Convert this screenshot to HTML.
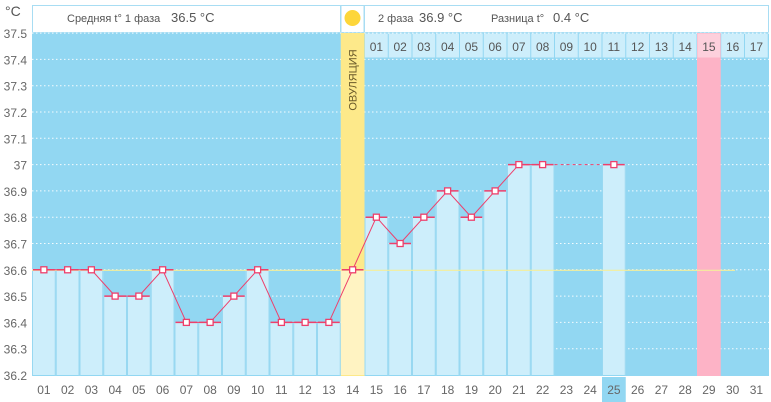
<!DOCTYPE html>
<html><head><meta charset="utf-8"><style>
html,body{margin:0;padding:0;background:#fff;}
svg{display:block;font-family:"Liberation Sans","DejaVu Sans",sans-serif;}
</style></head><body>
<svg id="s" width="771" height="402" viewBox="0 0 771 402" xmlns="http://www.w3.org/2000/svg">
<rect width="771" height="402" fill="#fff"/>
<rect x="32.5" y="5.5" width="308" height="27" fill="#fff" stroke="#a8ddf3"/>
<rect x="341" y="5.5" width="23" height="27" fill="#fff" stroke="#a8ddf3"/>
<rect x="364.5" y="5.5" width="404" height="27" fill="#fff" stroke="#a8ddf3"/>
<circle cx="352.5" cy="18" r="8" fill="#fdd63a"/>
<text x="67" y="22" font-size="11" fill="#555">Средняя t° 1 фаза</text>
<text x="171" y="22" font-size="13" fill="#555">36.5 °C</text>
<text x="378" y="22" font-size="11" fill="#555">2 фаза</text>
<text x="419" y="22" font-size="13" fill="#555">36.9 °C</text>
<text x="491" y="22" font-size="11" fill="#555">Разница t°</text>
<text x="553" y="22" font-size="13" fill="#555">0.4 °C</text>
<text x="5" y="16" font-size="14" fill="#555">°C</text>
<rect x="32" y="33" width="737" height="343" fill="#92d7f2"/>
<g id="g"></g>
</svg>
<script>
var s=document.getElementById('g'),NS='http://www.w3.org/2000/svg';
function el(t,a,txt){var e=document.createElementNS(NS,t);for(var k in a)e.setAttribute(k,a[k]);if(txt!=null)e.textContent=txt;s.appendChild(e);return e;}
var P=23.75,X0=32;function cx(i){return X0+(i-1)*P;}
function Y(v){return 375-(v-36.2)*263;}
for(var k=1;k<=13;k++){var v=36.2+k*0.1;el('line',{x1:32,x2:769,y1:Y(v),y2:Y(v),stroke:'#fff','stroke-dasharray':'1.5 2.5','stroke-opacity':0.9});}
for(var k=0;k<=13;k++){var v=(36.2+k*0.1);var t=v.toFixed(1);if(t=='37.0')t='37';el('text',{x:27,y:Y(v)+5,'font-size':12,fill:'#666','text-anchor':'end'},t);}
var d={1:36.6,2:36.6,3:36.6,4:36.5,5:36.5,6:36.6,7:36.4,8:36.4,9:36.5,10:36.6,11:36.4,12:36.4,13:36.4,14:36.6,15:36.8,16:36.7,17:36.8,18:36.9,19:36.8,20:36.9,21:37.0,22:37.0,25:37.0};
el('rect',{x:cx(29),y:33,width:P,height:343,fill:'#fdb3c6'});
for(var i=1;i<=31;i++){if(d[i]&&i!=14){el('rect',{x:cx(i),y:Y(d[i]),width:P,height:375-Y(d[i]),fill:'#cdeefb'});}}
el('rect',{x:cx(14),y:33,width:P,height:343,fill:'#fde98a'});
el('rect',{x:cx(14),y:Y(36.6),width:P,height:375-Y(36.6),fill:'#fff3c2'});
for(var i=1;i<=31;i++){if(d[i]&&i!=14){el('line',{x1:cx(i)+0.5,x2:cx(i)+0.5,y1:Y(d[i]),y2:376,stroke:'#98d8f1'});el('line',{x1:cx(i+1)-0.5,x2:cx(i+1)-0.5,y1:Y(d[i]),y2:376,stroke:'#98d8f1'});}}
el('line',{x1:32,x2:735,y1:Y(36.6)+0.5,y2:Y(36.6)+0.5,stroke:'#f4ee9a','stroke-width':1.2});
for(var j=15;j<=31;j++){el('rect',{x:cx(j)+0.5,y:33.5,width:P-1,height:24,fill:j==29?'#fdd0dc':'#cdeefb'});el('text',{x:cx(j)+P/2,y:51,'font-size':12,fill:'#555','text-anchor':'middle'},('0'+(j-14)).slice(-2));}
el('text',{x:0,y:0,'font-size':11,fill:'#6a5a2a','text-anchor':'middle',transform:'translate('+(cx(14)+P/2+4)+',80) rotate(-90)'},'ОВУЛЯЦИЯ');
var pts=[];for(var i=1;i<=22;i++)pts.push((cx(i)+P/2)+','+Y(d[i]));
el('polyline',{points:pts.join(' '),fill:'none',stroke:'#ee3f6b','stroke-width':1});
el('line',{x1:cx(22)+P,x2:cx(25),y1:Y(37),y2:Y(37),stroke:'#ee3f6b','stroke-dasharray':'3 3'});
for(var i in d){i=+i;var y=Y(d[i]);el('line',{x1:cx(i)+1,x2:cx(i)+P-1,y1:y,y2:y,stroke:'#ee3f6b','stroke-width':1.5});el('rect',{x:cx(i)+P/2-3,y:y-3,width:6,height:6,fill:'#fff',stroke:'#ee3f6b','stroke-width':1.3});}
el('rect',{x:cx(25),y:377,width:P,height:25,fill:'#92d7f2'});
for(var i=1;i<=31;i++)el('text',{x:cx(i)+P/2,y:394,'font-size':12,fill:'#666','text-anchor':'middle'},('0'+i).slice(-2));
el('path',{d:'M114 353 A9 9 0 1 0 126 367 A7.5 7.5 0 0 1 114 353 Z',fill:'#f7a21b'});
</script>
</body></html>
